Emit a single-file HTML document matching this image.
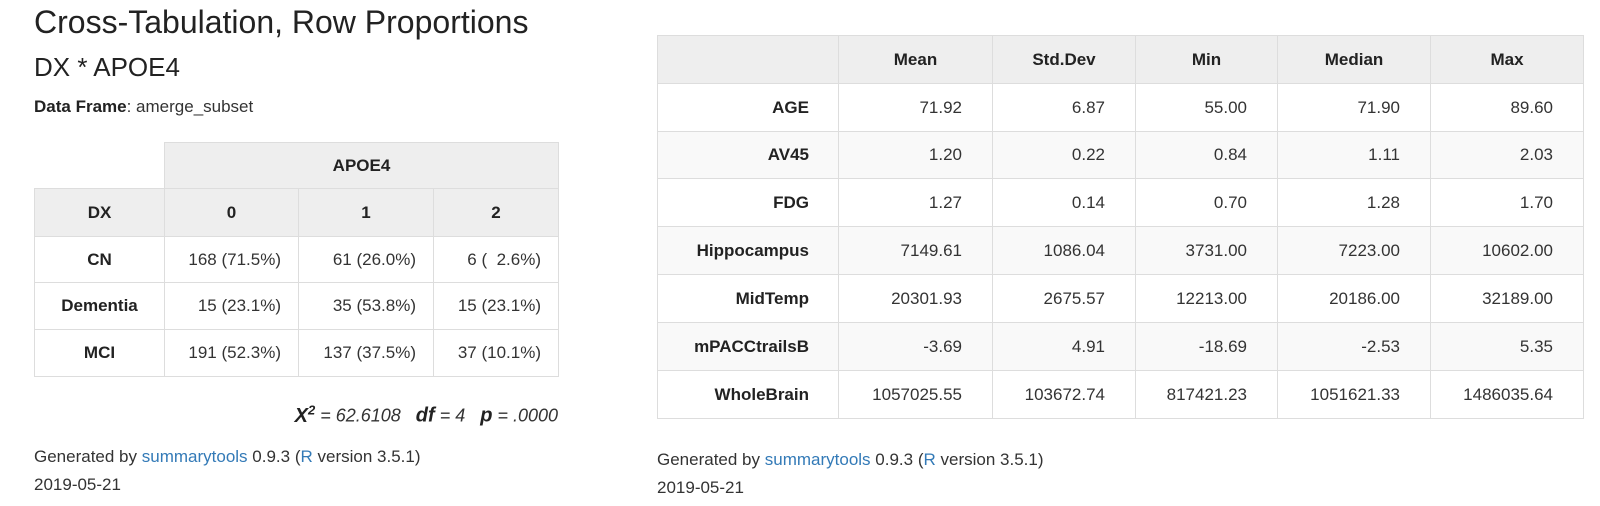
<!DOCTYPE html>
<html><head><meta charset="utf-8">
<style>
body{margin:0;width:1600px;height:506px;background:#fff;font-family:"Liberation Sans",sans-serif;color:#333;position:relative;overflow:hidden}
.t{position:absolute;line-height:1;white-space:nowrap}
table{position:absolute;border-collapse:collapse;font-size:17px;table-layout:fixed}
td,th{border:1px solid #ddd;padding:0;box-sizing:border-box}
th{background:#eee;font-weight:bold;color:#222}
a{color:#337ab7;text-decoration:none}
#lt td{text-align:right;padding-right:17px}
#lt td.h{text-align:center;padding:0;font-weight:bold;color:#222}
#rt td{text-align:right;padding-right:30px}
#rt td.h{font-weight:bold;padding-right:29px;color:#222}
#rt tr.s td{background:#f9f9f9}
</style></head><body>
<div class="t" style="left:34px;top:6px;font-size:32px;color:#222">Cross-Tabulation, Row Proportions</div>
<div class="t" style="left:34px;top:54px;font-size:26px;color:#222">DX * APOE4</div>
<div class="t" style="left:34px;top:98px;font-size:17px"><b style="color:#222">Data Frame</b>: amerge_subset</div>

<table id="lt" style="left:34px;top:142px;width:524px">
<colgroup><col style="width:130px"><col style="width:134px"><col style="width:135px"><col style="width:125px"></colgroup>
<tr style="height:46px"><td style="border:none;background:#fff"></td><th colspan="3">APOE4</th></tr>
<tr style="height:48px"><th>DX</th><th>0</th><th>1</th><th>2</th></tr>
<tr style="height:46px"><td class="h">CN</td><td>168 (71.5%)</td><td>61 (26.0%)</td><td>6 (&nbsp;&nbsp;2.6%)</td></tr>
<tr style="height:47px"><td class="h">Dementia</td><td>15 (23.1%)</td><td>35 (53.8%)</td><td>15 (23.1%)</td></tr>
<tr style="height:47px"><td class="h">MCI</td><td>191 (52.3%)</td><td>137 (37.5%)</td><td>37 (10.1%)</td></tr>
</table>

<div class="t" style="right:1042px;top:403px;font-size:18px;font-style:italic"><b style="font-size:20px;color:#222">X<sup style="font-size:13px">2</sup></b> = 62.6108&nbsp;&nbsp;&nbsp;<b style="font-size:20px;color:#222">df</b> = 4&nbsp;&nbsp;&nbsp;<b style="font-size:20px;color:#222">p</b> = .0000</div>

<div class="t" style="left:34px;top:448px;font-size:17px">Generated by <a href="#">summarytools</a> 0.9.3 (<a href="#">R</a> version 3.5.1)</div>
<div class="t" style="left:34px;top:476px;font-size:17px">2019-05-21</div>

<table id="rt" style="left:657px;top:35px;width:926px">
<colgroup><col style="width:181px"><col style="width:154px"><col style="width:143px"><col style="width:142px"><col style="width:153px"><col style="width:153px"></colgroup>
<tr style="height:48px"><th></th><th>Mean</th><th>Std.Dev</th><th>Min</th><th>Median</th><th>Max</th></tr>
<tr style="height:48px"><td class="h">AGE</td><td>71.92</td><td>6.87</td><td>55.00</td><td>71.90</td><td>89.60</td></tr>
<tr class="s" style="height:47px"><td class="h">AV45</td><td>1.20</td><td>0.22</td><td>0.84</td><td>1.11</td><td>2.03</td></tr>
<tr style="height:48px"><td class="h">FDG</td><td>1.27</td><td>0.14</td><td>0.70</td><td>1.28</td><td>1.70</td></tr>
<tr class="s" style="height:48px"><td class="h">Hippocampus</td><td>7149.61</td><td>1086.04</td><td>3731.00</td><td>7223.00</td><td>10602.00</td></tr>
<tr style="height:48px"><td class="h">MidTemp</td><td>20301.93</td><td>2675.57</td><td>12213.00</td><td>20186.00</td><td>32189.00</td></tr>
<tr class="s" style="height:48px"><td class="h">mPACCtrailsB</td><td>-3.69</td><td>4.91</td><td>-18.69</td><td>-2.53</td><td>5.35</td></tr>
<tr style="height:48px"><td class="h">WholeBrain</td><td>1057025.55</td><td>103672.74</td><td>817421.23</td><td>1051621.33</td><td>1486035.64</td></tr>
</table>

<div class="t" style="left:657px;top:451px;font-size:17px">Generated by <a href="#">summarytools</a> 0.9.3 (<a href="#">R</a> version 3.5.1)</div>
<div class="t" style="left:657px;top:479px;font-size:17px">2019-05-21</div>
</body></html>
